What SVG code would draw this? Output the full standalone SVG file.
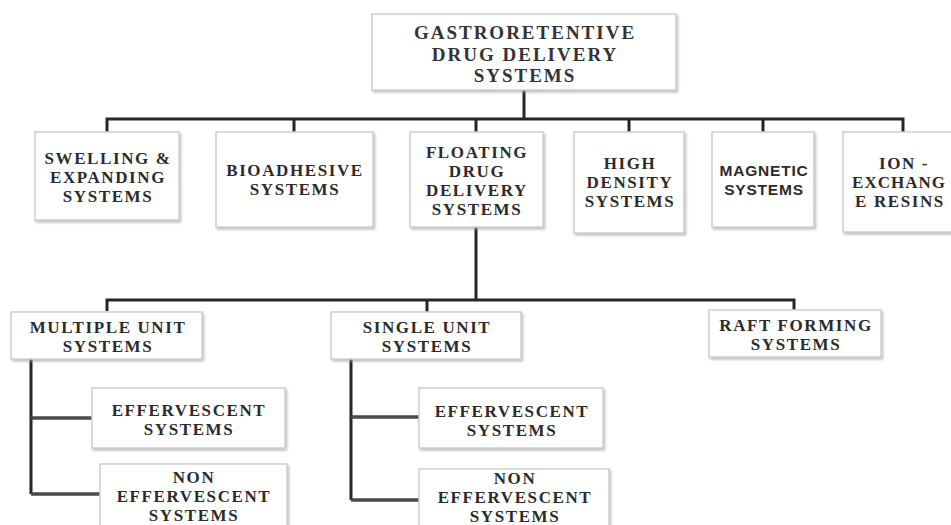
<svg xmlns="http://www.w3.org/2000/svg" width="951" height="525" viewBox="0 0 951 525">
<defs>
<filter id="sh" x="-10%" y="-10%" width="130%" height="130%">
<feDropShadow dx="1.5" dy="2" stdDeviation="1.2" flood-color="#999" flood-opacity="0.6"/>
</filter>
</defs>
<style>
.box{fill:#fff;stroke:#cfcfcf;stroke-width:1.5;filter:url(#sh)}
.t{font-family:"Liberation Serif","Times New Roman",serif;font-weight:bold;font-size:17px;letter-spacing:1.6px;fill:#2b2b2b;text-anchor:middle}
.title{font-family:"Liberation Serif","Times New Roman",serif;font-weight:bold;font-size:19px;letter-spacing:2px;fill:#333;text-anchor:middle}
.s{font-family:"Liberation Sans",Arial,sans-serif;font-weight:bold;font-size:15.5px;letter-spacing:0.8px;fill:#2b2b2b;text-anchor:middle}
.c{fill:none;stroke:#262626;stroke-width:3}
.b{fill:none;stroke:#4a4a4a;stroke-width:3.5}
</style>
<rect width="951" height="525" fill="#fff"/>
<g id="connectors">
<path class="c" d="M524 90V119M107 132V119H903V132M294 119V132M476 119V132M629 119V132M763 119V132"/>
<path class="c" d="M476 227V300M107 311V300H794V310M427 300V312"/>
<path class="c" d="M31 359V494M351 359V500"/>
<path class="b" d="M31 418H92M31 494H100M351 417H419M351 500H419"/>
</g>
<g id="n_root">
<rect class="box" x="372" y="14" width="304" height="76"/>
<text class="title" x="525" y="39">GASTRORETENTIVE</text>
<text class="title" x="525" y="60.5">DRUG DELIVERY</text>
<text class="title" x="525" y="82">SYSTEMS</text>
</g>
<g id="n_swelling">
<rect class="box" x="35" y="132" width="144" height="88"/>
<text class="t" x="108" y="164">SWELLING &amp;</text>
<text class="t" x="108" y="183">EXPANDING</text>
<text class="t" x="108" y="202">SYSTEMS</text>
</g>
<g id="n_bio">
<rect class="box" x="216" y="132" width="157" height="95"/>
<text class="t" x="295" y="176">BIOADHESIVE</text>
<text class="t" x="295" y="195">SYSTEMS</text>
</g>
<g id="n_floating">
<rect class="box" x="410" y="132" width="133" height="95"/>
<text class="t" x="477" y="158">FLOATING</text>
<text class="t" x="477" y="177">DRUG</text>
<text class="t" x="477" y="196">DELIVERY</text>
<text class="t" x="477" y="215">SYSTEMS</text>
</g>
<g id="n_high">
<rect class="box" x="574" y="132" width="110" height="101"/>
<text class="t" x="630" y="169">HIGH</text>
<text class="t" x="630" y="188">DENSITY</text>
<text class="t" x="630" y="207">SYSTEMS</text>
</g>
<g id="n_magnetic">
<rect class="box" x="712" y="132" width="102" height="95"/>
<text class="s" x="764" y="176">MAGNETIC</text>
<text class="s" x="764" y="195">SYSTEMS</text>
</g>
<g id="n_ion">
<rect class="box" x="843" y="132" width="130" height="100"/>
<text class="t" x="904" y="169">ION -</text>
<text class="t" x="899" y="188" style="letter-spacing:1px">EXCHANG</text>
<text class="t" x="900" y="207">E RESINS</text>
</g>
<g id="n_multiple">
<rect class="box" x="11" y="312" width="191" height="47"/>
<text class="t" x="108" y="333">MULTIPLE UNIT</text>
<text class="t" x="108" y="352">SYSTEMS</text>
</g>
<g id="n_single">
<rect class="box" x="331" y="312" width="190" height="47"/>
<text class="t" x="427" y="333">SINGLE UNIT</text>
<text class="t" x="427" y="352">SYSTEMS</text>
</g>
<g id="n_raft">
<rect class="box" x="709" y="310" width="172" height="47"/>
<text class="t" x="796" y="331">RAFT FORMING</text>
<text class="t" x="796" y="350">SYSTEMS</text>
</g>
<g id="n_eff1">
<rect class="box" x="92" y="388" width="193" height="60"/>
<text class="t" x="189" y="416">EFFERVESCENT</text>
<text class="t" x="189" y="435">SYSTEMS</text>
</g>
<g id="n_non1">
<rect class="box" x="100" y="464" width="187" height="80"/>
<text class="t" x="194" y="483">NON</text>
<text class="t" x="194" y="502">EFFERVESCENT</text>
<text class="t" x="194" y="521">SYSTEMS</text>
</g>
<g id="n_eff2">
<rect class="box" x="419" y="388" width="184" height="60"/>
<text class="t" x="512" y="417">EFFERVESCENT</text>
<text class="t" x="512" y="436">SYSTEMS</text>
</g>
<g id="n_non2">
<rect class="box" x="419" y="469" width="190" height="80"/>
<text class="t" x="515" y="484">NON</text>
<text class="t" x="515" y="503">EFFERVESCENT</text>
<text class="t" x="515" y="522">SYSTEMS</text>
</g>
</svg>
